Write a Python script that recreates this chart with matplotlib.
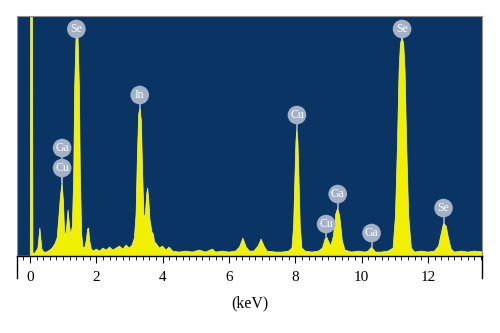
import matplotlib
matplotlib.use("Agg")
import matplotlib.pyplot as plt
from matplotlib.lines import Line2D

# spectrum (keV, counts in arbitrary units)
energy = [-0.4, 0.01, 0.03, 0.07, 0.09, 0.15, 0.24, 0.27, 0.30, 0.33, 0.36, 0.42, 0.5, 0.6,
          0.67, 0.75, 0.82, 0.87, 0.92, 0.97, 1.01, 1.04, 1.07, 1.11, 1.15, 1.19, 1.23, 1.28,
          1.32, 1.35, 1.39, 1.42, 1.45, 1.49, 1.52, 1.56, 1.60, 1.65, 1.70, 1.74, 1.77, 1.80,
          1.85, 1.92, 2.0, 2.1, 2.2, 2.3, 2.4, 2.5, 2.6, 2.7, 2.8, 2.9, 3.0, 3.08, 3.15, 3.2,
          3.24, 3.28, 3.32, 3.36, 3.40, 3.44, 3.48, 3.52, 3.55, 3.58, 3.62, 3.68, 3.72, 3.76,
          3.82, 3.9, 4.0, 4.1, 4.2, 4.3, 4.5, 4.7, 4.9, 5.1, 5.3, 5.5, 5.6, 5.8, 6.0, 6.2,
          6.32, 6.42, 6.52, 6.62, 6.75, 6.88, 6.97, 7.06, 7.15, 7.4, 7.6, 7.8, 7.9, 7.95,
          7.99, 8.02, 8.05, 8.08, 8.11, 8.15, 8.2, 8.3, 8.5, 8.7, 8.82, 8.9, 8.95, 9.0, 9.07,
          9.15, 9.22, 9.28, 9.34, 9.42, 9.5, 9.7, 9.9, 10.1, 10.2, 10.27, 10.3, 10.35, 10.42,
          10.6, 10.8, 10.95, 11.02, 11.08, 11.13, 11.17, 11.22, 11.27, 11.31, 11.36, 11.42,
          11.5, 11.6, 11.8, 12.0, 12.2, 12.32, 12.4, 12.47, 12.55, 12.62, 12.7, 12.8, 13.0,
          13.2, 13.4, 13.7]
counts = [0, 0, 400, 400, 3, 3, 8, 18, 28, 18, 7, 4, 4, 6,
          8, 12, 18, 38, 60, 74, 55, 28, 18, 30, 46, 32, 21, 30,
          80, 170, 218, 225, 218, 170, 80, 22, 9, 8, 16, 27, 28, 16,
          7, 5, 7, 5, 8, 6, 9, 6, 8, 10, 7, 11, 8, 11, 18, 42,
          100, 142, 149, 135, 80, 38, 42, 62, 68, 58, 36, 24, 22, 14,
          12, 8, 10, 6, 9, 5, 4, 5, 4, 6, 4, 7, 4, 5, 4, 5,
          9, 18, 9, 5, 5, 10, 17, 10, 5, 4, 4, 5, 8, 30,
          80, 115, 128, 115, 80, 30, 8, 5, 4, 5, 8, 17, 19, 15, 10,
          20, 42, 48, 40, 15, 6, 4, 5, 4, 5, 8, 9, 7, 4,
          4, 5, 8, 40, 110, 185, 212, 219, 212, 185, 110, 40,
          8, 4, 5, 4, 5, 10, 22, 33, 30, 18, 7, 4, 5,
          4, 5, 4]

# element labels: text, energy, label height, peak height
lab_text = ["Se", "In", "Ga", "Cu", "Cu", "Cu", "Ga", "Ga", "Se", "Se"]
lab_x = [1.40, 3.31, 0.97, 0.97, 8.05, 8.93, 9.28, 10.3, 11.22, 12.47]
lab_y = [227, 161, 108, 88, 141, 32, 62, 23, 227, 48]
lab_peak = [225, 149, 74, 74, 128, 19, 48, 9, 219, 33]

xticks = [0, 2, 4, 6, 8, 10, 12]

navy = "#0a3464"
yellow = "#f0f000"
bubble = "#a3b1c6"

fig = plt.figure(figsize=(5, 3.33), dpi=100)
ax = fig.add_axes([0.034, 0.231, 0.93, 0.721])
ax.set_facecolor(navy)

ax.fill_between(energy, counts, 0, color=yellow, linewidth=0)
ax.plot(energy, counts, color="#f8f870", linewidth=0.5)

for t, x, y, p in zip(lab_text, lab_x, lab_y, lab_peak):
    ax.plot([x, x], [p, y], color=bubble, linewidth=1.2, zorder=3)
    ax.scatter([x], [y], s=180, color=bubble, edgecolors="none", zorder=4)
    ax.text(x, y, t, color="white", fontsize=8.5, family="Liberation Serif",
            ha="center", va="center", zorder=5)

ax.set_xlim(-0.39, 13.63)
ax.set_ylim(0, 240)
ax.set_yticks([])
ax.set_xticks(xticks)
ax.set_xticks([i * 0.2 for i in range(-1, 69)], minor=True)
ax.tick_params(axis="x", which="major", direction="out", length=5, width=0.8, pad=6,
               labelsize=11, color="black")
ax.tick_params(axis="x", which="minor", direction="out", length=3, width=0.6, color="black")
for lbl in ax.get_xticklabels():
    lbl.set_family("Liberation Serif")

for side in ["top", "left", "right"]:
    ax.spines[side].set_color("#909090")
    ax.spines[side].set_linewidth(0.8)
ax.spines["bottom"].set_color("black")
ax.spines["bottom"].set_linewidth(1.0)

# frame sides run down past the axis line
for xs in [0, 1]:
    ax.add_line(Line2D([xs, xs], [0, -0.092], transform=ax.transAxes, color="black",
                       linewidth=1.0, clip_on=False))

ax.set_xlabel("(keV)", fontsize=11.5, family="Liberation Serif", labelpad=8)

fig.savefig("out.png", dpi=100)
